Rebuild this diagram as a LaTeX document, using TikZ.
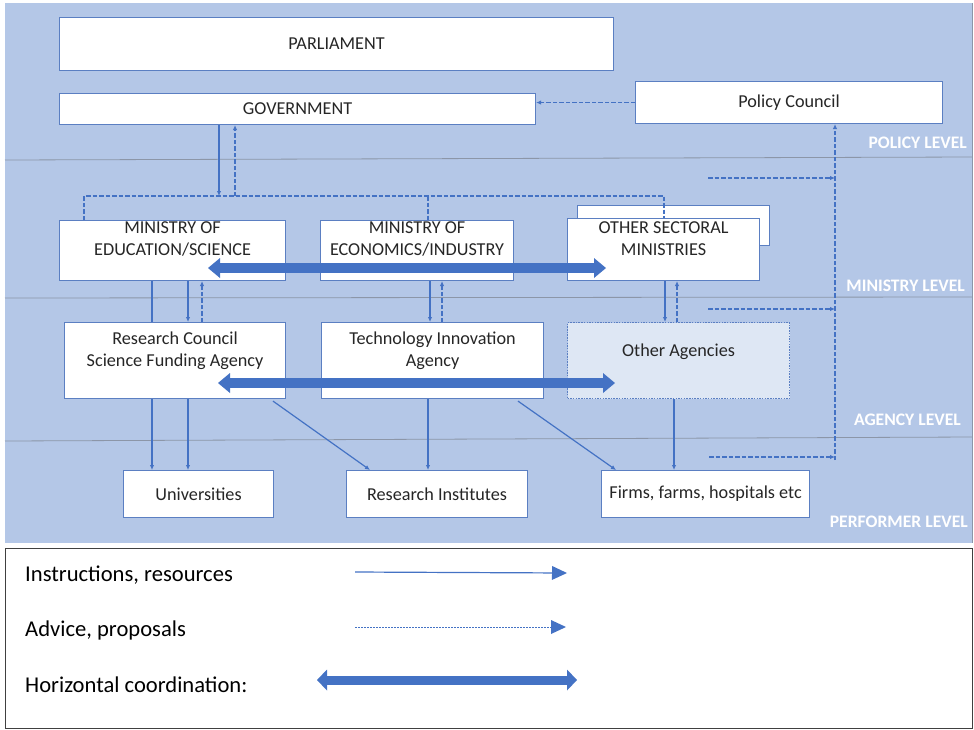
\documentclass[tikz,border=0pt]{standalone}
\usepackage{fontspec}
\setmainfont{Carlito}
\usetikzlibrary{arrows.meta,calc}
\definecolor{bgblue}{RGB}{180,199,231}
\definecolor{lineblue}{RGB}{68,114,196}
\definecolor{boxblue}{RGB}{91,127,194}
\definecolor{levelgray}{RGB}{140,150,168}
\definecolor{agfill}{RGB}{222,231,244}
\begin{document}
\begin{tikzpicture}[x=1pt,y=-1pt,
  box/.style={draw=boxblue,line width=1.1pt,fill=white,rectangle,inner sep=0pt,anchor=north west},
  agbox/.style={box,fill=agfill,dash pattern=on 1.5pt off 1.2pt},
  txt/.style={font=\fontsize{18.2}{22}\selectfont,align=center,inner sep=0pt,text=black!85},
  lvl/.style={font=\fontsize{17.6}{20}\selectfont\bfseries,text=white,inner sep=0pt,anchor=east},
  legtxt/.style={font=\fontsize{22.6}{26}\selectfont,text=black,inner sep=0pt,anchor=west},
  levelline/.style={draw=levelgray,line width=0.8pt},
  instr/.style={draw=lineblue,line width=1.2pt,-{Latex[length=5pt,width=4.5pt]}},
  instrplain/.style={draw=lineblue,line width=1.2pt},
  advice/.style={draw=lineblue,line width=1.1pt,dash pattern=on 4.5pt off 2pt,-{Latex[length=5pt,width=4.5pt]}},
  adviceplain/.style={draw=lineblue,line width=1.1pt,dash pattern=on 4.5pt off 2pt},
  coordarrow/.style={draw=lineblue,line width=10pt,{Triangle[length=12pt,width=20pt,line width=0pt]}-{Triangle[length=12pt,width=20pt,line width=0pt]}}
]
\useasboundingbox (0,0) rectangle (974,729);
% background and level lines
\fill[bgblue] (5,3) rectangle (972,543);
\draw[levelgray,line width=0.8pt] (972,3) -- (972,543);
\draw[levelline] (5,160) -- (972,157);
\draw[levelline] (5,298) -- (972,297);
\draw[levelline] (5,441) -- (972,437);

% helper x positions
\foreach \xx in {84,152,188,202,219,235,273,370,428,430,442,518,616,664,665,674,677,835}
  {\coordinate (x\xx) at (\xx,0);}
\coordinate (bus) at (0,196);

% boxes
\node[box,minimum width=554pt,minimum height=53pt] (parl) at (59,17) {};
\node[box,minimum width=476pt,minimum height=31pt] (gov) at (59,93) {};
\node[box,minimum width=307pt,minimum height=42pt] (pc) at (635,81) {};
\node[box,minimum width=226pt,minimum height=60pt] (edu) at (59,220) {};
\node[box,minimum width=193pt,minimum height=60pt] (eco) at (320,220) {};
\node[box,minimum width=192pt,minimum height=40pt] (othb) at (577,205) {};
\node[box,minimum width=192pt,minimum height=62pt] (oth) at (567,218) {};
\node[box,minimum width=221pt,minimum height=76pt] (rc) at (64,322) {};
\node[box,minimum width=222pt,minimum height=76pt] (tia) at (321,322) {};
\node[agbox,minimum width=222pt,minimum height=76pt] (oa) at (567,322) {};
\node[box,minimum width=150pt,minimum height=47pt] (uni) at (123,470) {};
\node[box,minimum width=181pt,minimum height=47pt] (ri) at (346,470) {};
\node[box,minimum width=208pt,minimum height=47pt] (firms) at (601,470) {};

% texts
\node[txt] (tparl) at (parl.center) {PARLIAMENT};
\node[txt] (tgov) at (gov.center) {GOVERNMENT};
\node[txt] (tpc) at (pc.center) {Policy Council};
\node[txt,anchor=north] (tedu) at ($(edu.north)+(0,1.5)$) {MINISTRY OF\\EDUCATION/SCIENCE};
\node[txt,anchor=north] (teco) at ($(eco.north)+(0,1.5)$) {MINISTRY OF\\ECONOMICS/INDUSTRY};
\node[txt,anchor=north] (toth) at ($(oth.north)+(0,3.5)$) {OTHER SECTORAL\\MINISTRIES};
\node[txt,anchor=north] (trc) at ($(rc.north)+(0,10)$) {Research Council\\Science Funding Agency};
\node[txt,anchor=north] (ttia) at ($(tia.north)+(0,10)$) {Technology Innovation\\Agency};
\node[txt,anchor=north] (toa) at ($(oa.north)+(0,22)$) {Other Agencies};
\node[txt] (tuni) at (uni.center) {Universities};
\node[txt] (tri) at (ri.center) {Research Institutes};
\node[txt] (tfirms) at (firms.center) {Firms, farms, hospitals etc};

% connectors
\draw[advice] (pc.west) -- (pc.west -| gov.east);
\draw[instr] (x219 |- gov.south) -- (x219 |- bus);
\draw[advice] (x235 |- bus) -- (x235 |- gov.south);
\draw[adviceplain] (x84 |- edu.north) |- (x664 |- bus) -- (x664 |- oth.north);
\draw[adviceplain] (x428 |- bus) -- (x428 |- eco.north);

\coordinate (vbot) at (835,460);
\draw[advice] (vbot) -- (vbot |- pc.south);
\coordinate (h1) at (708,178);
\coordinate (h2) at (708,309);
\coordinate (h3) at (709,457);
\draw[advice] (h1) -- (h1 -| vbot);
\draw[advice] (h2) -- (h2 -| vbot);
\draw[advice] (h3) -- (h3 -| vbot);

\draw[instrplain] (x152 |- edu.south) -- (x152 |- rc.north);
\draw[instr] (x152 |- rc.south) -- (x152 |- uni.north);
\draw[instr] (x188 |- edu.south) -- (x188 |- rc.north);
\draw[instr] (x188 |- rc.south) -- (x188 |- uni.north);
\draw[advice] (x202 |- rc.north) -- (x202 |- edu.south);
\draw[instr] (x430 |- eco.south) -- (x430 |- tia.north);
\draw[advice] (x442 |- tia.north) -- (x442 |- eco.south);
\draw[instr] (x428 |- tia.south) -- (x428 |- ri.north);
\draw[instr] ($(x273 |- rc.south)+(0,2)$) -- (x370 |- ri.north);
\draw[instr] ($(x518 |- tia.south)+(0,2)$) -- (x616 |- firms.north);
\draw[instr] (x665 |- oth.south) -- (x665 |- oa.north);
\draw[advice] (x677 |- oa.north) -- (x677 |- oth.south);
\draw[instr] (x674 |- oa.south) -- (x674 |- firms.north);

% horizontal coordination
\coordinate (m1) at (208,268);
\coordinate (m2) at (606,268);
\draw[coordarrow] (m1) -- (m2);
\coordinate (a1) at (218,383);
\coordinate (a2) at (615,383);
\draw[coordarrow] (a1) -- (a2);

% level labels
\node[lvl] (lpol) at (967,143) {POLICY LEVEL};
\node[lvl] (lmin) at (965,286) {MINISTRY LEVEL};
\node[lvl] (lag) at (961,420) {AGENCY LEVEL};
\node[lvl] (lperf) at (968,522) {PERFORMER LEVEL};

% legend
\node[draw=black!75,line width=1pt,rectangle,inner sep=0pt,anchor=north west,minimum width=967pt,minimum height=180pt] (leg) at (5,548) {};
\node[legtxt] (li1) at (25,575) {Instructions, resources};
\node[legtxt] (li2) at (25,630) {Advice, proposals};
\node[legtxt] (li3) at (25,685) {Horizontal coordination:};
\coordinate (la1) at (355,572);
\coordinate (lb1) at (567,573);
\draw[draw=lineblue,line width=1.2pt,-{Triangle[length=15pt,width=14pt,line width=0pt]}] (la1) -- (lb1);
\coordinate (la2) at (355,627);
\coordinate (lb2) at (566,627);
\draw[draw=lineblue,line width=1pt,dash pattern=on 2pt off 1pt,-{Triangle[length=15pt,width=14pt,line width=0pt]}] (la2) -- (lb2);
\coordinate (la3) at (317,680);
\coordinate (lb3) at (577,680);
\draw[draw=lineblue,line width=9pt,{Triangle[length=10pt,width=21pt,line width=0pt]}-{Triangle[length=10pt,width=21pt,line width=0pt]}] (la3) -- (lb3);
\end{tikzpicture}
\end{document}
